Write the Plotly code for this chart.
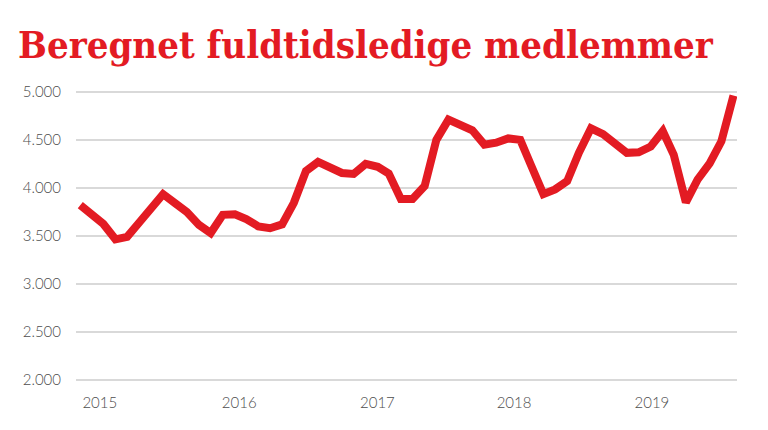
import pandas as pd
import plotly.graph_objects as go

# maanedlige tal, jan 2015 - aug 2019
months = pd.date_range("2015-01-01", "2019-08-01", freq="MS")
ledige = [
    3820, 3730, 3625, 3465, 3490, 3640, 3790, 3935, 3840, 3750, 3615, 3530,   # 2015
    3720, 3725, 3675, 3600, 3580, 3620, 3845, 4175, 4270, 4215, 4155, 4145,   # 2016
    4250, 4220, 4150, 3885, 3885, 4020, 4500, 4710, 4655, 4600, 4450, 4470,   # 2017
    4515, 4500, 4230, 3935, 3985, 4070, 4365, 4620, 4560, 4465, 4365, 4370,   # 2018
    4430, 4590, 4345, 3850, 4085, 4255, 4485, 4960,                           # 2019
]

year_ticks = ["2015-02-20", "2016-02-12", "2017-01-31", "2018-01-16", "2019-01-04"]
year_labels = ["2015", "2016", "2017", "2018", "2019"]
y_ticks = [2000, 2500, 3000, 3500, 4000, 4500, 5000]
y_labels = ["2.000", "2.500", "3.000", "3.500", "4.000", "4.500", "5.000"]

red = "#e31b23"

fig = go.Figure()
fig.add_trace(go.Scatter(
    x=months, y=ledige, mode="lines",
    line=dict(color=red, width=8),
    hoverinfo="skip",
))

# siden har 8px body-margin, saa alt er rykket 8px ind
fig.update_layout(
    width=768, height=430,
    margin=dict(l=68, r=39, t=79, b=56, autoexpand=False),
    paper_bgcolor="white", plot_bgcolor="white",
    showlegend=False,
    title=dict(
        text="<b>Beregnet fuldtidsledige medlemmer</b>",
        font=dict(family="DejaVu Serif Condensed", size=38, color=red),
        xref="container", yref="container",
        x=10 / 768, xanchor="left",
        y=1 - 50 / 430, yanchor="bottom",
        automargin=False,
    ),
    font=dict(family="Lato", size=15, color="#4d4d4d", weight=300),
)

fig.update_xaxes(
    type="date",
    range=["2014-12-21", "2019-08-10"],
    tickvals=year_ticks, ticktext=year_labels,
    showgrid=False, zeroline=False, showline=False, ticks="",
    ticklabelstandoff=10, automargin=False,
)
fig.update_yaxes(
    range=[1980, 5050],
    tickvals=y_ticks, ticktext=y_labels,
    showgrid=True, gridcolor="#d9d9d9", gridwidth=2,
    zeroline=False, showline=False, ticks="",
    ticklabelstandoff=14, automargin=False,
)

fig.write_html("out.html")
